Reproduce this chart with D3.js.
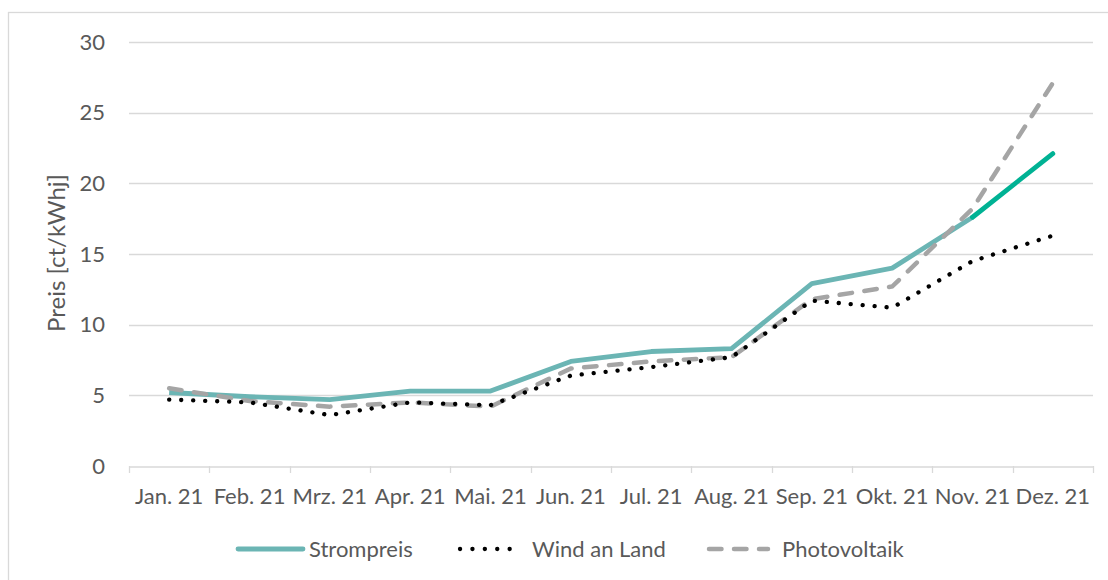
<!DOCTYPE html>
<html><head><meta charset="utf-8">
<script src="https://cdn.jsdelivr.net/npm/d3@7"></script>
<style>body{margin:0;background:#fff}svg{display:block}text{font-family:Lato,"Open Sans",sans-serif;fill:#595959}</style>
</head><body><svg id="c" width="1108" height="580"></svg>
<script>
const categories = ["Jan. 21","Feb. 21","Mrz. 21","Apr. 21","Mai. 21","Jun. 21","Jul. 21","Aug. 21","Sep. 21","Okt. 21","Nov. 21","Dez. 21"];
const strompreis = [5.2, 4.9, 4.7, 5.3, 5.3, 7.4, 8.1, 8.3, 12.9, 14.0, 17.6, 22.1];
const windAnLand = [4.7, 4.5, 3.6, 4.5, 4.3, 6.4, 7.0, 7.7, 11.7, 11.2, 14.5, 16.3];
const photovoltaik = [5.5, 4.6, 4.2, 4.5, 4.2, 6.9, 7.4, 7.7, 11.8, 12.7, 18.2, 27.1];
const yTicks = [0, 5, 10, 15, 20, 25, 30];
const seriesNames = ["Strompreis", "Wind an Land", "Photovoltaik"];
const yTitle = "Preis [ct/kWhj]";

const svg = d3.select("#c");
svg.append("rect").attr("x",8.5).attr("y",12.5).attr("width",1200).attr("height",700)
  .attr("fill","none").attr("stroke","#d9d9d9").attr("stroke-width",1.3);

const L=129, R=1093, T=42, B=466;
const FS = "22px";
const x = d3.scaleBand().domain(categories).range([L,R]);
const y = d3.scaleLinear().domain([0,30]).range([B,T]);
const cx = d => x(d) + x.bandwidth()/2;

// gridlines
svg.append("g").selectAll("line").data(yTicks.filter(t=>t>0)).join("line")
  .attr("x1",L).attr("x2",R).attr("y1",d=>Math.round(y(d))+0.5).attr("y2",d=>Math.round(y(d))+0.5)
  .attr("stroke","#d9d9d9").attr("stroke-width",1.3);

// y axis labels
const ya = svg.append("g").attr("transform",`translate(${L},0)`)
  .call(d3.axisLeft(y).tickValues(yTicks).tickSize(0).tickPadding(24));
ya.select(".domain").remove();
ya.selectAll("text").style("font-size",FS).attr("fill","#595959").style("font-family","Lato");

// x axis
const xa = svg.append("g").attr("transform",`translate(0,${Math.round(B)+0.5})`)
  .call(d3.axisBottom(x).tickSize(0).tickPadding(22));
xa.select(".domain").attr("stroke","#d9d9d9").attr("stroke-width",1.3);
xa.selectAll("text").style("font-size",FS).attr("fill","#595959").style("font-family","Lato");
// tick marks at band boundaries
const bounds = categories.map(c=>x(c)).concat([R]);
svg.append("g").selectAll("line").data(bounds).join("line")
  .attr("x1",d=>Math.round(d)+0.5).attr("x2",d=>Math.round(d)+0.5)
  .attr("y1",B).attr("y2",B+7).attr("stroke","#d9d9d9").attr("stroke-width",1.3);

// y title
svg.append("text").attr("transform","translate(65,253) rotate(-90)")
  .attr("text-anchor","middle").style("font-size","24px").text(yTitle);

const line = d3.line().x((d,i)=>cx(categories[i])).y(d=>y(d));
const idx = d3.range(categories.length);

// Strompreis
const sLine = d3.line().x(i=>cx(categories[i])).y(i=>y(strompreis[i]));
svg.append("path").datum(idx.slice(0,11)).attr("d",sLine).attr("fill","none")
  .attr("stroke","#6bb5b4").attr("stroke-width",4.8).attr("stroke-linejoin","round");
svg.append("path").datum(idx.slice(10)).attr("d",sLine).attr("fill","none")
  .attr("stroke","#00b294").attr("stroke-width",4.8).attr("stroke-linecap","round");
// Photovoltaik (dashed)
svg.append("path").datum(photovoltaik).attr("d",line).attr("fill","none")
  .attr("stroke","#a5a5a5").attr("stroke-width",4.5).attr("stroke-linecap","round")
  .attr("stroke-dasharray","12.5 12.5");
// Wind an Land (dotted)
svg.append("path").datum(windAnLand).attr("d",line).attr("fill","none")
  .attr("stroke","#000").attr("stroke-width",4.3).attr("stroke-linecap","round")
  .attr("stroke-dasharray","0.1 11.9");

// legend
const ly = 549;
const lg = svg.append("g");
lg.append("line").attr("x1",238).attr("x2",303).attr("y1",ly).attr("y2",ly)
  .attr("stroke","#6bb5b4").attr("stroke-width",4.8).attr("stroke-linecap","round");
lg.append("text").attr("x",309).attr("y",ly+8).style("font-size",FS).text(seriesNames[0]);
lg.append("line").attr("x1",460).attr("x2",522).attr("y1",ly).attr("y2",ly)
  .attr("stroke","#000").attr("stroke-width",4.3).attr("stroke-linecap","round").attr("stroke-dasharray","0.1 12.3");
lg.append("text").attr("x",532).attr("y",ly+8).style("font-size",FS).text(seriesNames[1]);
lg.append("line").attr("x1",709).attr("x2",768).attr("y1",ly).attr("y2",ly)
  .attr("stroke","#a5a5a5").attr("stroke-width",4.5).attr("stroke-linecap","round").attr("stroke-dasharray","12.5 12.5");
lg.append("text").attr("x",782).attr("y",ly+8).style("font-size",FS).text(seriesNames[2]);
</script></body></html>
